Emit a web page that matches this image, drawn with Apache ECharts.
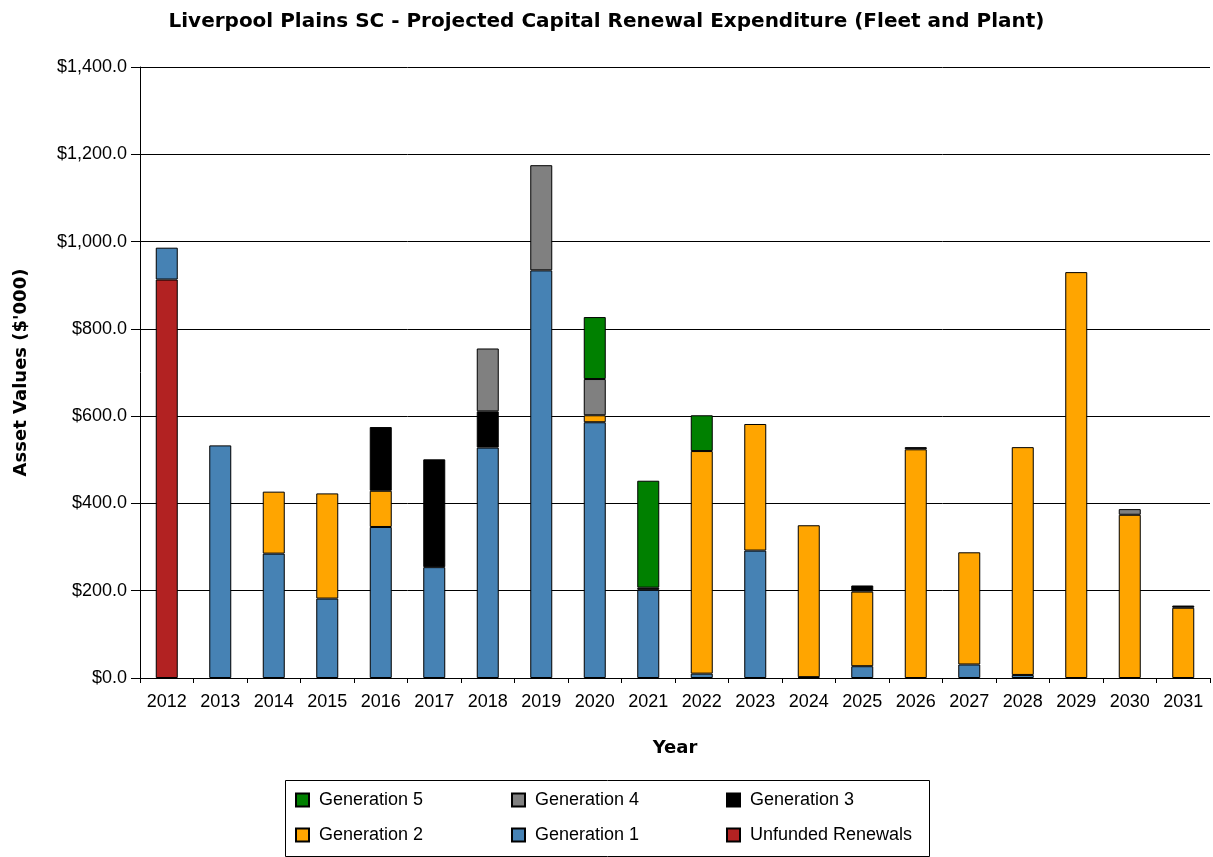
<!DOCTYPE html>
<html><head><meta charset="utf-8">
<script src="https://cdn.jsdelivr.net/npm/echarts@6/dist/echarts.min.js"></script>
<style>html,body{margin:0;padding:0;background:#fff}#c{width:1213px;height:857px}</style>
</head><body><div id="c"></div>
<script>
const years = ['2012','2013','2014','2015','2016','2017','2018','2019','2020','2021','2022','2023','2024','2025','2026','2027','2028','2029','2030','2031'];
const unfunded = [913,0,0,0,0,0,0,0,0,0,0,0,0,0,0,0,0,0,0,0];
const gen1 = [73,533,285,182,346,254,528,934,586,202,10,292,2,27,0,31,7,0,0,0];
const gen2 = [0,0,142,241,83,0,0,0,16,0,510,290,348,171,524,257,522,930,374,161];
const gen3 = [0,0,0,0,146,247,83,0,0,5,0,0,0,14,5,0,0,0,0,5];
const gen4 = [0,0,0,0,0,0,144,241,83,0,0,0,0,0,0,0,0,0,13,0];
const gen5 = [0,0,0,0,0,0,0,0,142,245,82,0,0,0,0,0,0,0,0,0];
const yTicks = [0,200,400,600,800,1000,1200,1400];

const seriesDefs = [
  {name:'Unfunded Renewals', data:unfunded, color:'#B22222'},
  {name:'Generation 1', data:gen1, color:'#4682B4'},
  {name:'Generation 2', data:gen2, color:'#FFA500'},
  {name:'Generation 3', data:gen3, color:'#000000'},
  {name:'Generation 4', data:gen4, color:'#808080'},
  {name:'Generation 5', data:gen5, color:'#008000'}
];
const legendLayout = [
  ['Generation 5', 295, 791], ['Generation 4', 511, 791], ['Generation 3', 726, 791],
  ['Generation 2', 295, 826], ['Generation 1', 511, 826], ['Unfunded Renewals', 726, 826]
];
const chart = echarts.init(document.getElementById('c'), null, {renderer:'canvas'});
const font = '"Liberation Sans", Arial, sans-serif';
const boldFont = '"DejaVu Sans", Verdana, sans-serif';
chart.setOption({
  animation:false,
  backgroundColor:'#fff',
  title:{text:'Liverpool Plains SC - Projected Capital Renewal Expenditure (Fleet and Plant)', left:'center', top:7,
    textStyle:{fontFamily:boldFont, fontWeight:'bold', fontSize:20, color:'#000'}},
  legend: legendLayout.map(([n,x,y]) => ({
    data:[n], left:x, top:y, orient:'horizontal', itemWidth:13, itemHeight:13, itemGap:8, padding:0,
    icon:'rect', selectedMode:false,
    textStyle:{fontFamily:font, fontSize:18, color:'#000', padding:[0,0,0,5]}
  })),
  graphic:[{type:'rect', shape:{x:285.5, y:780.5, width:644, height:76}, style:{fill:'none', stroke:'#000', lineWidth:1}}],
  grid:{left:140, right:3, top:67, bottom:179, containLabel:false},
  xAxis:{type:'category', data:years, boundaryGap:true,
    name:'Year', nameLocation:'middle', nameGap:61,
    nameTextStyle:{fontFamily:boldFont, fontWeight:'bold', fontSize:18, color:'#000'},
    axisLine:{lineStyle:{color:'#000', width:1}},
    axisTick:{show:true, alignWithLabel:false, length:5, lineStyle:{color:'#000'}},
    axisLabel:{fontFamily:font, fontSize:18, color:'#000', margin:15, interval:0}},
  yAxis:{type:'value', min:0, max:1400, interval:200,
    name:"Asset Values ($'000)", nameLocation:'middle', nameGap:110, nameRotate:90,
    nameTextStyle:{fontFamily:boldFont, fontWeight:'bold', fontSize:18, color:'#000'},
    axisLine:{show:true, lineStyle:{color:'#000', width:1}},
    axisTick:{show:true, length:9, lineStyle:{color:'#000'}},
    splitLine:{show:true, lineStyle:{color:'#000', width:1}},
    axisLabel:{fontFamily:font, fontSize:18, color:'#000', margin:13,
      formatter:v => '$' + v.toLocaleString('en-US',{minimumFractionDigits:1, maximumFractionDigits:1})}},
  series: seriesDefs.map(s => ({
    name:s.name, type:'bar', stack:'total', data:s.data.map(v => v === 0 ? '-' : v), barWidth:22,
    itemStyle:{color:s.color, borderColor:'#000', borderWidth:1},
    emphasis:{disabled:true}
  }))
});
</script></body></html>
